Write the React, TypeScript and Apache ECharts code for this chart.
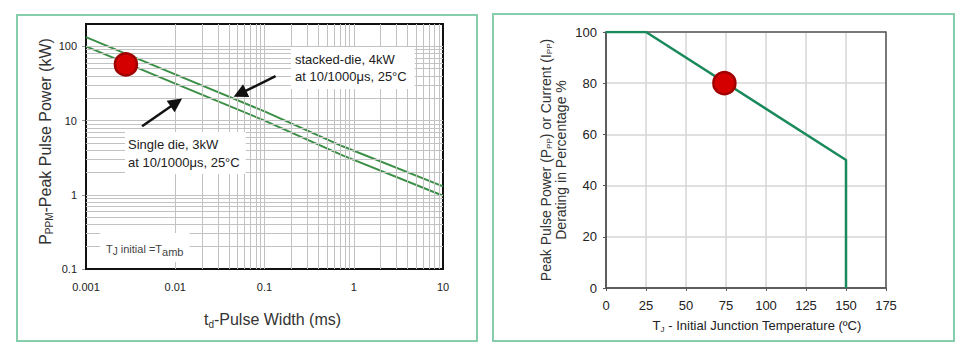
import React, { useEffect, useRef } from "react";
import * as echarts from "echarts";

// ---- Left chart: peak pulse power vs pulse width (log-log) ----
const pulseWidthMs = [0.001, 0.01, 0.1, 0.75, 10];
const stackedDieKW = [133, 42, 13.3, 4.5, 1.3];
const singleDieKW = [100, 31.5, 10, 3.4, 0.97];
const pulseMarker = [0.0028, 57];
const xDecades = [-3, -2, -1, 0];
const yDecades = [-1, 0, 1, 2];
const minorMultipliers = [1, 2, 3, 4, 5, 6, 7, 8, 9];
const stackedArrow = [[0.133, 39.6], [0.053, 23]];
const singleArrow = [[0.00425, 8.4], [0.0103, 17.5]];

// ---- Right chart: derating vs junction temperature ----
const tempC = [0, 25, 150, 150];
const deratingPct = [100, 100, 50, 0];
const deratingMarker = [74, 80];

const FONT = '"Liberation Sans", Arial, sans-serif';

function logLabel(v: number): string {
  const e = Math.log10(v);
  const r = Math.round(e);
  if (Math.abs(e - r) > 1e-6) return "";
  return String(Number(Math.pow(10, r).toPrecision(1)));
}

function buildGridValues(decades: number[], lo: number, hi: number): number[] {
  const out: number[] = [];
  decades.forEach((d) => {
    minorMultipliers.forEach((k) => {
      const v = Number((k * Math.pow(10, d)).toPrecision(3));
      if (v > lo * 1.0001 && v < hi * 0.9999) out.push(v);
    });
  });
  return out;
}

export default function App() {
  const ref = useRef<HTMLDivElement>(null);
  useEffect(() => {
    if (!ref.current) return;
    const chart = echarts.init(ref.current, null, { renderer: "svg" });
    const xGrid = buildGridValues(xDecades, 0.001, 10);
    const yGrid = buildGridValues(yDecades, 0.1, 200);
    const gridMarks: any[] = [
      ...xGrid.map((v) => ({ xAxis: v })),
      ...yGrid.map((v) => ({ yAxis: v })),
    ];
    const subStyle = (size: number, pad: number, color: string) => ({
      fontSize: size,
      fontFamily: FONT,
      color,
      padding: [pad, 0, 0, 0],
    });

    const option: any = {
      animation: false,
      textStyle: { fontFamily: FONT },
      grid: [
        {
          left: 86, top: 24, width: 357, height: 245,
          show: true, borderColor: "#111", borderWidth: 2, z: 1,
          backgroundColor: "transparent",
        },
        {
          left: 606, top: 32, width: 280, height: 256,
          show: true, borderColor: "#555", borderWidth: 1.5, z: 1,
          backgroundColor: "transparent",
        },
      ],
      xAxis: [
        {
          type: "log", gridIndex: 0, logBase: 10, min: 0.001, max: 10,
          axisLine: { show: true, onZero: false, lineStyle: { color: "#111", width: 2 } },
          axisTick: { show: false },
          splitLine: { show: false },
          axisLabel: { fontSize: 11, color: "#222", margin: 12, formatter: logLabel, fontFamily: FONT },
          name: "t{sub|d}-Pulse Width (ms)",
          nameLocation: "middle", nameGap: 41,
          nameTextStyle: {
            fontSize: 16, color: "#333", fontFamily: FONT, padding: [0, 0, 0, 16],
            rich: { sub: subStyle(10, 9, "#333") },
          },
        },
        {
          type: "value", gridIndex: 1, min: 0, max: 175, interval: 25,
          axisLine: { show: true, onZero: false, lineStyle: { color: "#555", width: 1.5 } },
          axisTick: { show: true, length: 3, lineStyle: { color: "#555" } },
          splitLine: { show: true, lineStyle: { color: "#d6d6d6", width: 1.5 } },
          axisLabel: { fontSize: 13, color: "#222", margin: 11, fontFamily: FONT },
          name: "T{sub|J} - Initial Junction Temperature (ºC)",
          nameLocation: "middle", nameGap: 29,
          nameTextStyle: {
            fontSize: 13, color: "#222", fontFamily: FONT, padding: [0, 0, 0, 22],
            rich: { sub: subStyle(8, 8, "#222") },
          },
        },
      ],
      yAxis: [
        {
          type: "log", gridIndex: 0, logBase: 10, min: 0.1, max: 200, splitNumber: 4,
          axisLine: { show: true, onZero: false, lineStyle: { color: "#111", width: 2 } },
          axisTick: { show: true, length: 4, lineStyle: { color: "#999" } },
          splitLine: { show: false },
          axisLabel: { fontSize: 11, color: "#222", margin: 9, formatter: logLabel, showMaxLabel: false, fontFamily: FONT },
          name: "P{sub|PPM}-Peak Pulse Power (kW)",
          nameLocation: "middle", nameRotate: 90, nameGap: 29,
          nameTextStyle: {
            fontSize: 16, color: "#333", fontFamily: FONT, padding: [0, 0, 0, 10],
            rich: { sub: subStyle(10, 9, "#333") },
          },
        },
        {
          type: "value", gridIndex: 1, min: 0, max: 100, interval: 20,
          axisLine: { show: true, onZero: false, lineStyle: { color: "#555", width: 1.5 } },
          axisTick: { show: true, length: 3, lineStyle: { color: "#555" } },
          splitLine: { show: true, lineStyle: { color: "#d6d6d6", width: 1.5 } },
          axisLabel: { fontSize: 13, color: "#222", margin: 9, fontFamily: FONT },
          name: "Peak Pulse Power (P{sub|PP}) or Current (I{sub|PP})\nDerating in Percentage %",
          nameLocation: "middle", nameRotate: 90, nameGap: 38,
          nameTextStyle: {
            fontSize: 14, color: "#333", fontFamily: FONT, lineHeight: 15,
            rich: { sub: subStyle(8, 7, "#333") },
          },
        },
      ],
      series: [
        {
          name: "grid-minor", type: "line", xAxisIndex: 0, yAxisIndex: 0,
          data: [], silent: true, z: 2,
          markLine: {
            silent: true, symbol: ["none", "none"], label: { show: false },
            lineStyle: { color: "#c2c2c2", width: 1, type: "solid" },
            emphasis: { disabled: true },
            data: gridMarks,
          },
        },
        {
          name: "stacked-die, 4kW", type: "line", xAxisIndex: 0, yAxisIndex: 0,
          data: pulseWidthMs.map((x, i) => [x, stackedDieKW[i]]),
          symbol: "none", z: 3,
          lineStyle: { color: "#3b8f45", width: 2 },
        },
        {
          name: "Single die, 3kW", type: "line", xAxisIndex: 0, yAxisIndex: 0,
          data: pulseWidthMs.map((x, i) => [x, singleDieKW[i]]),
          symbol: "none", z: 3,
          lineStyle: { color: "#3b8f45", width: 2 },
        },
        {
          name: "arrows", type: "line", xAxisIndex: 0, yAxisIndex: 0,
          data: [], silent: true, z: 4,
          markLine: {
            silent: true, symbol: ["none", "triangle"], symbolSize: 14,
            label: { show: false },
            itemStyle: { color: "#111" },
            lineStyle: { color: "#111", width: 2.5, type: "solid" },
            emphasis: { disabled: true },
            data: [
              [{ coord: stackedArrow[0] }, { coord: stackedArrow[1] }],
              [{ coord: singleArrow[0] }, { coord: singleArrow[1] }],
            ],
          },
        },
        {
          name: "pulse-marker", type: "scatter", xAxisIndex: 0, yAxisIndex: 0,
          data: [pulseMarker], symbolSize: 22, z: 5,
          itemStyle: { color: "#d40000", borderColor: "#a00000", borderWidth: 2.5, opacity: 1 },
        },
        {
          name: "derating", type: "line", xAxisIndex: 1, yAxisIndex: 1,
          data: tempC.map((x, i) => [x, deratingPct[i]]),
          symbol: "none", z: 3,
          lineStyle: { color: "#1a8a5c", width: 2.5 },
        },
        {
          name: "derating-marker", type: "scatter", xAxisIndex: 1, yAxisIndex: 1,
          data: [deratingMarker], symbolSize: 22, z: 5,
          itemStyle: { color: "#d40000", borderColor: "#a00000", borderWidth: 2.5, opacity: 1 },
        },
      ],
      graphic: [
        {
          type: "rect", z: 0, silent: true,
          shape: { x: 17, y: 15, width: 460, height: 326 },
          style: { fill: "none", stroke: "#86cdab", lineWidth: 2 },
        },
        {
          type: "rect", z: 0, silent: true,
          shape: { x: 493, y: 14, width: 461, height: 327 },
          style: { fill: "none", stroke: "#86cdab", lineWidth: 2 },
        },
        {
          type: "text", x: 291, y: 47, z: 100, silent: true,
          style: {
            text: "stacked-die, 4kW\nat 10/1000μs, 25°C",
            fontSize: 13, fontFamily: FONT, fill: "#222", lineHeight: 17,
            backgroundColor: "#fff", padding: [4, 8, 4, 4],
          },
        },
        {
          type: "text", x: 125, y: 132, z: 100, silent: true,
          style: {
            text: "Single die, 3kW\nat 10/1000μs, 25°C",
            fontSize: 13, fontFamily: FONT, fill: "#222", lineHeight: 18,
            backgroundColor: "#fff", padding: [3, 6, 3, 3],
          },
        },
        {
          type: "text", x: 100, y: 233, z: 100, silent: true,
          style: {
            text: "T{s|J} initial =T{s2|amb}",
            fontSize: 11, fontFamily: FONT, fill: "#444",
            backgroundColor: "#fff", padding: [7, 6, 5, 6],
            rich: {
              s: { fontSize: 10, fontFamily: FONT, fill: "#444", padding: [6, 0, 0, 0] },
              s2: { fontSize: 11, fontFamily: FONT, fill: "#444", padding: [6, 0, 0, 0] },
            },
          },
        },
      ],
    };
    chart.setOption(option);
    return () => chart.dispose();
  }, []);
  return (
    <div
      ref={ref}
      style={{ position: "absolute", left: 0, top: 0, width: 969, height: 351, background: "#fff" }}
    />
  );
}
